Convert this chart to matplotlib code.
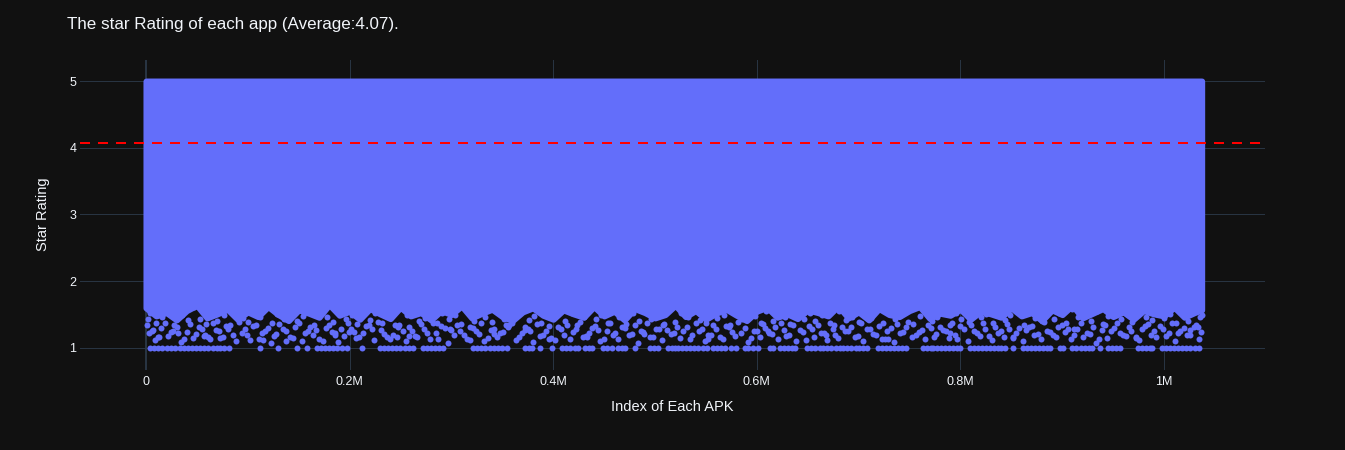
import matplotlib
matplotlib.use("Agg")
import matplotlib.pyplot as plt
import numpy as np

plt.rcParams['font.family'] = ['Liberation Sans', 'DejaVu Sans']

# ---------------- data ----------------
title = "The star Rating of each app (Average:4.07)."
x_label = "Index of Each APK"
y_label = "Star Rating"
average_rating = 4.07
max_rating = 5.0

x_ticks = [0, 200000, 400000, 600000, 800000, 1000000]
x_tick_labels = ["0", "0.2M", "0.4M", "0.6M", "0.8M", "1M"]
y_ticks = [1, 2, 3, 4, 5]

# dense body of points: lower edge of the solid region (index in thousands)
dense_x_k = [0, 10, 20, 30, 40, 50, 60, 70, 80, 90,
             100, 110, 120, 130, 140, 150, 160, 170, 180, 190,
             200, 210, 220, 230, 240, 250, 260, 270, 280, 290,
             300, 310, 320, 330, 340, 350, 360, 370, 380, 390,
             400, 410, 420, 430, 440, 450, 460, 470, 480, 490,
             500, 510, 520, 530, 540, 550, 560, 570, 580, 590,
             600, 610, 620, 630, 640, 650, 660, 670, 680, 690,
             700, 710, 720, 730, 740, 750, 760, 770, 780, 790,
             800, 810, 820, 830, 840, 850, 860, 870, 880, 890,
             900, 910, 920, 930, 940, 950, 960, 970, 980, 990,
             1000, 1010, 1020, 1030, 1037]
dense_low = [1.60, 1.48, 1.53, 1.42, 1.56, 1.64, 1.45, 1.51, 1.58, 1.43,
             1.54, 1.47, 1.62, 1.50, 1.41, 1.57, 1.52, 1.46, 1.65, 1.49,
             1.55, 1.43, 1.59, 1.51, 1.44, 1.61, 1.48, 1.53, 1.42, 1.56,
             1.50, 1.63, 1.45, 1.52, 1.58, 1.47, 1.41, 1.54, 1.60, 1.49,
             1.43, 1.57, 1.51, 1.46, 1.62, 1.48, 1.55, 1.42, 1.59, 1.53,
             1.45, 1.50, 1.64, 1.47, 1.56, 1.43, 1.52, 1.58, 1.49, 1.41,
             1.55, 1.61, 1.46, 1.51, 1.44, 1.57, 1.53, 1.48, 1.63, 1.45,
             1.54, 1.42, 1.59, 1.50, 1.47, 1.56, 1.62, 1.44, 1.52, 1.49,
             1.58, 1.43, 1.55, 1.51, 1.46, 1.60, 1.48, 1.53, 1.41, 1.57,
             1.50, 1.64, 1.45, 1.52, 1.59, 1.47, 1.54, 1.43, 1.56, 1.51,
             1.48, 1.61, 1.46, 1.53, 1.57]

# scattered low ratings below the solid region (index in thousands)
sparse_x_k = [3, 9, 15, 22, 27, 34, 40, 46, 52, 58,
              63, 69, 76, 81, 88, 94, 99, 105, 111, 117,
              123, 128, 135, 141, 146, 153, 159, 164, 170, 177,
              183, 189, 195, 201, 206, 213, 219, 224, 231, 237,
              243, 248, 255, 261, 266, 273, 279, 285, 290, 297,
              303, 308, 315, 321, 327, 332, 339, 345, 351, 356,
              363, 369, 375, 380, 387, 393, 398, 405, 411, 417,
              422, 429, 435, 441, 446, 453, 459, 464, 471, 477,
              483, 488, 495, 501, 507, 512, 519, 525, 531, 536,
              543, 549, 555, 560, 567, 573, 579, 584, 591, 597,
              603, 608, 615, 621, 627, 632, 639, 645, 651, 656,
              663, 669, 675, 680, 687, 693, 699, 704, 711, 717,
              723, 728, 735, 741, 747, 752, 759, 765, 771, 776,
              783, 789, 795, 800, 807, 813, 819, 824, 831, 837,
              843, 848, 855, 861, 867, 872, 879, 885, 891, 896,
              903, 909, 915, 920, 927, 933, 939, 944, 951, 957,
              963, 968, 975, 981, 987, 992, 999, 1005, 1011, 1016,
              1023, 1029, 1034, 12, 31, 73, 138, 199, 258, 318,
              372, 433, 489, 552, 611, 668, 729, 790, 852, 912,
              972, 1026, 6, 57, 115, 186, 247, 299, 342, 396]
sparse_r = [1.22, 1.12, 1.30, 1.18, 1.26, 1.09, 1.24, 1.15, 1.31, 1.20,
            1.13, 1.27, 1.17, 1.29, 1.10, 1.23, 1.19, 1.33, 1.14, 1.25,
            1.08, 1.21, 1.28, 1.16, 1.32, 1.11, 1.26, 1.19, 1.13, 1.30,
            1.24, 1.09, 1.18, 1.29, 1.15, 1.22, 1.34, 1.12, 1.27, 1.17,
            1.20, 1.31, 1.10, 1.25, 1.16, 1.28, 1.13, 1.23, 1.33, 1.08,
            1.19, 1.26, 1.14, 1.30, 1.21, 1.11, 1.27, 1.17, 1.24, 1.32,
            1.12, 1.22, 1.29, 1.09, 1.18, 1.25, 1.15, 1.31, 1.20, 1.13,
            1.28, 1.16, 1.23, 1.33, 1.10, 1.26, 1.19, 1.14, 1.30, 1.21,
            1.08, 1.24, 1.17, 1.29, 1.12, 1.27, 1.22, 1.15, 1.32, 1.19,
            1.25, 1.11, 1.20, 1.28, 1.14, 1.31, 1.18, 1.23, 1.09, 1.26,
            1.16, 1.30, 1.21, 1.13, 1.27, 1.19, 1.10, 1.24, 1.33, 1.17,
            1.22, 1.12, 1.29, 1.15, 1.25, 1.32, 1.18, 1.11, 1.28, 1.20,
            1.14, 1.26, 1.09, 1.23, 1.31, 1.17, 1.24, 1.13, 1.30, 1.21,
            1.27, 1.15, 1.19, 1.33, 1.11, 1.25, 1.18, 1.29, 1.12, 1.22,
            1.16, 1.28, 1.23, 1.10, 1.31, 1.20, 1.14, 1.26, 1.19, 1.32,
            1.24, 1.13, 1.29, 1.17, 1.21, 1.08, 1.27, 1.15, 1.30, 1.22,
            1.18, 1.25, 1.12, 1.33, 1.20, 1.16, 1.28, 1.23, 1.11, 1.26,
            1.19, 1.31, 1.14, 1.17, 1.23, 1.15, 1.10, 1.24, 1.18, 1.12,
            1.27, 1.16, 1.21, 1.13, 1.25, 1.19, 1.14, 1.22, 1.17, 1.28,
            1.15, 1.20, 1.26, 1.18, 1.12, 1.23, 1.16, 1.29, 1.21, 1.14]

# a second layer of scattered low ratings
sparse2_x_k = [1, 7, 13, 19, 25, 30, 37, 43, 49, 55,
               61, 66, 72, 79, 85, 91, 97, 102, 108, 114,
               120, 126, 131, 138, 144, 150, 156, 161, 167, 174,
               180, 186, 192, 198, 204, 209, 216, 222, 228, 234,
               240, 245, 252, 258, 264, 270, 276, 282, 287, 294,
               300, 306, 312, 318, 324, 329, 336, 342, 348, 354,
               360, 366, 372, 377, 384, 390, 396, 402, 408, 414,
               419, 426, 432, 438, 444, 450, 456, 461, 468, 474,
               480, 486, 492, 498, 504, 509, 516, 522, 528, 534,
               540, 546, 552, 557, 564, 570, 576, 582, 588, 594,
               600, 606, 612, 618, 624, 629, 636, 642, 648, 654,
               660, 666, 672, 677, 684, 690, 696, 702, 708, 714,
               720, 726, 732, 738, 744, 749, 756, 762, 768, 774,
               780, 786, 792, 797, 804, 810, 816, 822, 828, 834,
               840, 846, 852, 858, 864, 870, 876, 882, 888, 894,
               900, 906, 912, 918, 924, 930, 936, 942, 948, 954,
               960, 966, 972, 978, 984, 990, 996, 1002, 1008, 1014,
               1020, 1026, 1031, 1036, 1033]
sparse2_r = [1.35, 1.27, 1.17, 1.38, 1.24, 1.31, 1.14, 1.36, 1.21, 1.29,
             1.16, 1.37, 1.25, 1.33, 1.19, 1.39, 1.28, 1.12, 1.34, 1.23,
             1.30, 1.18, 1.36, 1.26, 1.15, 1.38, 1.22, 1.32, 1.27, 1.11,
             1.35, 1.20, 1.29, 1.37, 1.24, 1.16, 1.33, 1.28, 1.39, 1.21,
             1.14, 1.34, 1.26, 1.31, 1.18, 1.36, 1.23, 1.38, 1.13, 1.30,
             1.27, 1.35, 1.19, 1.32, 1.25, 1.37, 1.15, 1.29, 1.22, 1.34,
             1.38, 1.17, 1.31, 1.26, 1.36, 1.20, 1.33, 1.12, 1.28, 1.35,
             1.24, 1.39, 1.18, 1.30, 1.27, 1.14, 1.37, 1.23, 1.32, 1.19,
             1.34, 1.26, 1.38, 1.16, 1.29, 1.36, 1.21, 1.31, 1.25, 1.13,
             1.37, 1.28, 1.20, 1.35, 1.17, 1.33, 1.24, 1.39, 1.30, 1.15,
             1.26, 1.36, 1.22, 1.31, 1.38, 1.18, 1.34, 1.27, 1.12, 1.29,
             1.35, 1.23, 1.37, 1.19, 1.32, 1.25, 1.16, 1.38, 1.28, 1.21,
             1.33, 1.14, 1.30, 1.36, 1.24, 1.39, 1.20, 1.27, 1.34, 1.17,
             1.31, 1.26, 1.37, 1.13, 1.29, 1.35, 1.22, 1.38, 1.18, 1.32,
             1.25, 1.36, 1.15, 1.30, 1.27, 1.33, 1.21, 1.39, 1.24, 1.16,
             1.34, 1.28, 1.19, 1.37, 1.23, 1.31, 1.14, 1.35, 1.26, 1.38,
             1.20, 1.32, 1.17, 1.29, 1.36, 1.25, 1.33, 1.18, 1.37, 1.22,
             1.30, 1.27, 1.35, 1.24, 1.31]

# a third layer of scattered ratings just below the solid region
sparse3_x_k = [4, 10, 16, 23, 28, 35, 41, 47, 53, 59,
               64, 70, 77, 83, 89, 95, 100, 106, 112, 118,
               124, 129, 136, 142, 148, 154, 160, 165, 171, 178,
               184, 190, 196, 202, 207, 214, 220, 225, 232, 238,
               244, 249, 256, 262, 268, 274, 280, 286, 291, 298,
               304, 309, 316, 322, 328, 333, 340, 346, 352, 357,
               364, 370, 376, 381, 388, 394, 399, 406, 412, 418,
               423, 430, 436, 442, 447, 454, 460, 465, 472, 478,
               484, 489, 496, 502, 508, 513, 520, 526, 532, 537,
               544, 550, 556, 561, 568, 574, 580, 585, 592, 598,
               604, 609, 616, 622, 628, 633, 640, 646, 652, 657,
               664, 670, 676, 681, 688, 694, 700, 705, 712, 718,
               724, 729, 736, 742, 748, 753, 760, 766, 772, 777,
               784, 790, 796, 801, 808, 814, 820, 825, 832, 838,
               844, 849, 856, 862, 868, 873, 880, 886, 892, 897,
               904, 910, 916, 921, 928, 934, 940, 945, 952, 958,
               964, 969, 976, 982, 988, 993, 1000, 1006, 1012, 1017,
               1024, 1030, 1035, 2, 1037]
sparse3_r = [1.52, 1.38, 1.46, 1.58, 1.35, 1.49, 1.42, 1.61, 1.44, 1.36,
             1.55, 1.40, 1.50, 1.34, 1.57, 1.45, 1.39, 1.53, 1.47, 1.60,
             1.37, 1.51, 1.43, 1.56, 1.41, 1.48, 1.62, 1.35, 1.54, 1.46,
             1.39, 1.59, 1.44, 1.50, 1.36, 1.57, 1.42, 1.52, 1.38, 1.47,
             1.61, 1.34, 1.49, 1.55, 1.40, 1.45, 1.58, 1.37, 1.53, 1.43,
             1.50, 1.36, 1.56, 1.41, 1.60, 1.46, 1.39, 1.54, 1.44, 1.35,
             1.51, 1.58, 1.42, 1.48, 1.37, 1.55, 1.45, 1.62, 1.40, 1.52,
             1.34, 1.47, 1.57, 1.43, 1.50, 1.38, 1.59, 1.46, 1.36, 1.53,
             1.41, 1.56, 1.44, 1.49, 1.35, 1.61, 1.39, 1.52, 1.47, 1.58,
             1.42, 1.37, 1.54, 1.45, 1.50, 1.34, 1.57, 1.43, 1.60, 1.48,
             1.38, 1.55, 1.41, 1.51, 1.46, 1.36, 1.59, 1.44, 1.53, 1.40,
             1.49, 1.62, 1.35, 1.56, 1.42, 1.47, 1.39, 1.54, 1.45, 1.58,
             1.37, 1.52, 1.43, 1.50, 1.61, 1.36, 1.48, 1.55, 1.41, 1.46,
             1.57, 1.34, 1.53, 1.44, 1.39, 1.59, 1.47, 1.51, 1.38, 1.56,
             1.42, 1.49, 1.60, 1.35, 1.54, 1.45, 1.40, 1.57, 1.43, 1.52,
             1.37, 1.58, 1.46, 1.50, 1.41, 1.55, 1.36, 1.48, 1.62, 1.44,
             1.53, 1.39, 1.56, 1.47, 1.42, 1.59, 1.45, 1.51, 1.38, 1.54,
             1.40, 1.57, 1.46, 1.43, 1.49]

# apps rated exactly 1 star (index in thousands)
one_star_x_k = [4, 8, 12, 16, 21, 25, 29, 33, 37, 41,
                45, 49, 53, 57, 61, 66, 70, 73, 77, 82,
                112, 130, 148, 158, 168, 172, 176, 180, 184, 188,
                193, 197, 212, 230, 234, 238, 242, 246, 250, 254,
                258, 262, 272, 276, 280, 284, 288, 292, 321, 325,
                329, 333, 338, 342, 346, 350, 355, 372, 376, 379,
                387, 399, 409, 413, 417, 421, 424, 431, 435, 438,
                449, 453, 458, 464, 468, 471, 480, 495, 499, 503,
                513, 517, 520, 523, 527, 530, 534, 538, 542, 547,
                551, 557, 561, 565, 569, 575, 580, 588, 591, 596,
                601, 613, 616, 623, 627, 631, 635, 638, 649, 653,
                657, 662, 665, 669, 673, 678, 682, 685, 689, 693,
                697, 700, 704, 708, 719, 723, 727, 731, 735, 739,
                743, 747, 763, 767, 771, 773, 777, 781, 785, 789,
                793, 797, 800, 809, 813, 817, 821, 825, 829, 833,
                837, 840, 844, 852, 861, 865, 869, 873, 877, 881,
                885, 888, 898, 901, 910, 914, 918, 922, 926, 929,
                937, 945, 949, 953, 957, 974, 978, 982, 986, 988,
                998, 1002, 1006, 1010, 1014, 1018, 1022, 1026, 1030, 1034]

# ---------------- style ----------------
BG = "#111111"
GRID = "#283442"
TXT = "#f2f5fa"
MARK = "#636efa"
PX = 0.72  # points per pixel at dpi 100

fig = plt.figure(figsize=(13.45, 4.5), dpi=100, facecolor=BG)
ax = fig.add_axes([80 / 1345, 1 - 370 / 450, 1185 / 1345, 310 / 450])
ax.set_facecolor(BG)

ax.set_xlim(-64800, 1099200)
ax.set_ylim(0.67, 5.315)

for s in ax.spines.values():
    s.set_visible(False)

ax.set_xticks(x_ticks)
ax.set_xticklabels(x_tick_labels)
ax.set_yticks(y_ticks)
ax.tick_params(axis='both', length=0, labelsize=9, labelcolor=TXT)
ax.tick_params(axis='y', pad=2.5)
ax.tick_params(axis='x', pad=4)
ax.grid(True, color=GRID, linewidth=1 * PX, zorder=0)
ax.set_axisbelow(True)
ax.axvline(0, color=GRID, linewidth=2 * PX, zorder=0.5)

dx = np.array(dense_x_k) * 1000
ax.fill_between(dx, dense_low, max_rating, facecolor=MARK, edgecolor=MARK,
                linewidth=6 * PX, joinstyle='round', zorder=2)

ms = (6 * PX) ** 2
for xs, rs in ((sparse_x_k, sparse_r), (sparse2_x_k, sparse2_r),
               (sparse3_x_k, sparse3_r)):
    n = min(len(xs), len(rs))
    ax.scatter(np.array(xs[:n]) * 1000, rs[:n], s=ms, color=MARK,
               linewidths=0, zorder=3)
ax.scatter(np.array(one_star_x_k) * 1000, [1.0] * len(one_star_x_k), s=ms,
           color=MARK, linewidths=0, zorder=3)

ax.axhline(average_rating, color="red", linewidth=2 * PX,
           linestyle=(0, (5, 4)), zorder=4)

fig.text(67 / 1345, 1 - 24 / 450, title, fontsize=12.25, color=TXT,
         ha='left', va='center')
fig.text(43 / 1345, 1 - 214 / 450, y_label, fontsize=10.5, color=TXT,
         rotation=90, ha='center', va='center')
fig.text(672 / 1345, 1 - 407 / 450, x_label, fontsize=10.5, color=TXT,
         ha='center', va='center')

fig.savefig("out.png", dpi=100, facecolor=BG)
